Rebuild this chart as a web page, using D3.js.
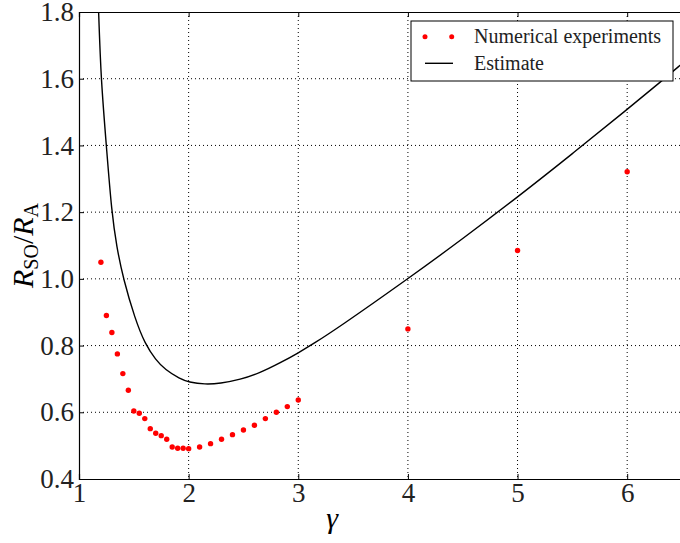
<!DOCTYPE html>
<html>
<head>
<meta charset="utf-8">
<script src="https://cdn.jsdelivr.net/npm/d3@7"></script>
<style>
    body { margin: 0; background: #fff; }
    svg { display: block; font-family: 'Liberation Serif', 'DejaVu Serif', serif; }
    .grid line { stroke: #000; stroke-width: 1; stroke-dasharray: 1,3; }
    .axis path, .axis line { stroke: #000; }
    .axis text { font-size: 27px; fill: #222; }
</style>
</head>
<body>
<svg id="chart"></svg>
<script>
// measured points (gamma, R_SO / R_A)
const expGamma = [1.2, 1.25, 1.3, 1.35, 1.4, 1.45, 1.5, 1.55, 1.6, 1.65, 1.7, 1.75, 1.8, 1.85, 1.9, 1.95, 2.0,
    2.1, 2.2, 2.3, 2.4, 2.5, 2.6, 2.7, 2.8, 2.9, 3.0, 4.0, 5.0, 6.0];
const expRatio = [1.05, 0.89, 0.839, 0.775, 0.716, 0.666, 0.604, 0.597, 0.581, 0.551, 0.537, 0.530, 0.519, 0.496, 0.492, 0.492, 0.491,
    0.496, 0.506, 0.519, 0.533, 0.547, 0.561, 0.581, 0.600, 0.617, 0.637, 0.850, 1.085, 1.321];

// estimate curve
const estGamma = [1.16, 1.18, 1.2, 1.253, 1.298, 1.344, 1.404, 1.511, 1.602, 1.7, 1.785, 1.921, 2.0, 2.15, 2.287, 2.47, 2.65,
    2.834, 3.0, 3.14, 3.35, 4.0, 4.5, 5.0, 5.5, 6.0, 6.31, 6.5];
const estRatio = [1.98, 1.79, 1.6, 1.385, 1.2, 1.095, 1.0, 0.88, 0.805, 0.757, 0.728, 0.700, 0.6905, 0.6835, 0.6865, 0.698, 0.718,
    0.748, 0.778, 0.806, 0.85, 1.0, 1.12, 1.245, 1.375, 1.508, 1.592, 1.645];

const xTicks = [1, 2, 3, 4, 5, 6];
const yTicks = [0.4, 0.6, 0.8, 1.0, 1.2, 1.4, 1.6, 1.8];

const legendItems = ['Numerical experiments', 'Estimate'];

const width = 680, height = 543;
const margin = { left: 79, top: 12, right: -2, bottom: 64 };
const innerW = width - margin.left - margin.right;
const innerH = height - margin.top - margin.bottom;

const svg = d3.select('#chart').attr('width', width).attr('height', height);

const x = d3.scaleLinear().domain([1, 6.5]).range([0, innerW]);
const y = d3.scaleLinear().domain([0.4, 1.8]).range([innerH, 0]);

const g = svg.append('g').attr('transform', `translate(${margin.left},${margin.top})`);

g.append('clipPath').attr('id', 'plot-clip')
    .append('rect').attr('width', innerW).attr('height', innerH);

// grid
g.append('g').attr('class', 'grid')
    .selectAll('line.v').data(xTicks.slice(1)).join('line')
    .attr('x1', (d) => x(d)).attr('x2', (d) => x(d))
    .attr('y1', 0).attr('y2', innerH);
g.append('g').attr('class', 'grid')
    .selectAll('line.h').data(yTicks.slice(1, -1)).join('line')
    .attr('y1', (d) => y(d)).attr('y2', (d) => y(d))
    .attr('x1', 0).attr('x2', innerW);

// axes with inward ticks
g.append('g').attr('class', 'axis')
    .attr('transform', `translate(0,${innerH})`)
    .call(d3.axisBottom(x).tickValues(xTicks).tickSize(-5).tickPadding(4).tickFormat(d3.format('d')));
g.append('g').attr('class', 'axis')
    .call(d3.axisTop(x).tickValues(xTicks).tickSize(-5).tickFormat(''));
g.append('g').attr('class', 'axis')
    .call(d3.axisLeft(y).tickValues(yTicks).tickSize(-5).tickPadding(5).tickFormat(d3.format('.1f')));
g.selectAll('.axis path').attr('stroke-width', 1.2);
g.selectAll('.axis text').attr('font-family', "'Liberation Serif', serif");

// estimate curve (b-spline smooths reading noise)
const line = d3.line().x((d) => x(d[0])).y((d) => y(d[1])).curve(d3.curveBasis);
g.append('path')
    .datum(d3.zip(estGamma, estRatio))
    .attr('clip-path', 'url(#plot-clip)')
    .attr('fill', 'none').attr('stroke', '#000').attr('stroke-width', 1.4)
    .attr('d', line);

// experiments
g.append('g').selectAll('circle').data(d3.zip(expGamma, expRatio)).join('circle')
    .attr('cx', (d) => x(d[0])).attr('cy', (d) => y(d[1]))
    .attr('r', 2.7).attr('fill', '#ff0000');

// legend
const lg = svg.append('g').attr('transform', 'translate(411,21)');
lg.append('rect').attr('width', 262).attr('height', 60)
    .attr('fill', '#fff').attr('stroke', '#000').attr('stroke-width', 1);
lg.selectAll('circle').data([14, 40.7]).join('circle')
    .attr('cx', (d) => d).attr('cy', 15.7).attr('r', 2.5).attr('fill', '#ff0000');
lg.append('line').attr('x1', 14).attr('x2', 42).attr('y1', 42.3).attr('y2', 42.3)
    .attr('stroke', '#000').attr('stroke-width', 1.4);
lg.selectAll('text').data(legendItems).join('text')
    .attr('x', 63).attr('y', (d, i) => 22 + i * 27)
    .attr('font-size', 20).attr('fill', '#222')
    .text((d) => d);

// axis labels
svg.append('text')
    .attr('x', margin.left + x(3.31)).attr('y', 528)
    .attr('text-anchor', 'middle').attr('font-size', 30).attr('font-style', 'italic')
    .text('γ');

const yl = svg.append('text')
    .attr('transform', `translate(33,${margin.top + y(1.1)}) rotate(-90)`)
    .attr('text-anchor', 'middle').attr('font-size', 30);
yl.append('tspan').attr('font-style', 'italic').text('R');
yl.append('tspan').attr('font-size', 20).attr('dy', 5).text('SO');
yl.append('tspan').attr('dy', -5).text('/');
yl.append('tspan').attr('font-style', 'italic').text('R');
yl.append('tspan').attr('font-size', 20).attr('dy', 5).text('A');
</script>
</body>
</html>
